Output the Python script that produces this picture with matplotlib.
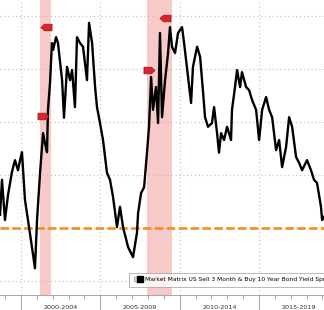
import matplotlib
matplotlib.use("Agg")
import matplotlib.pyplot as plt
from matplotlib.path import Path
from matplotlib.lines import Line2D
from matplotlib.legend_handler import HandlerTuple
import matplotlib.transforms as mtransforms

# spread (10y minus 3m, %), x in fractional years
years = [1998.68, 1998.80, 1998.99, 1999.18, 1999.43, 1999.62, 1999.81, 1999.94,
         2000.06, 2000.25, 2000.44, 2000.69, 2000.88, 2001.01, 2001.20, 2001.39,
         2001.51, 2001.64, 2001.70, 2001.83, 2001.95, 2002.02, 2002.21, 2002.33,
         2002.59, 2002.71, 2002.90, 2003.09, 2003.22, 2003.40, 2003.53, 2003.72,
         2003.91, 2004.16, 2004.29, 2004.48, 2004.67, 2004.79, 2004.98, 2005.17,
         2005.42, 2005.61, 2005.80, 2006.05, 2006.24, 2006.43, 2006.75, 2007.06,
         2007.31, 2007.38, 2007.57, 2007.76, 2007.94, 2008.07, 2008.20, 2008.32,
         2008.51, 2008.64, 2008.76, 2008.89, 2009.08, 2009.27, 2009.39, 2009.52,
         2009.71, 2009.90, 2010.15, 2010.28, 2010.53, 2010.72, 2010.84, 2011.10,
         2011.29, 2011.48, 2011.60, 2011.79, 2012.04, 2012.17, 2012.36, 2012.48,
         2012.61, 2012.80, 2012.99, 2013.24, 2013.30, 2013.49, 2013.62, 2013.81,
         2013.93, 2014.19, 2014.38, 2014.56, 2014.82, 2015.01, 2015.20, 2015.45,
         2015.64, 2015.83, 2016.08, 2016.27, 2016.46, 2016.71, 2016.90, 2017.09,
         2017.34, 2017.53, 2017.72, 2018.03, 2018.28, 2018.47, 2018.66, 2018.91,
         2018.98, 2019.10]
spread = [0.25, 0.91, 0.15, 0.62, 1.06, 1.28, 1.09, 1.28,
          1.43, 0.53, 0.15, -0.36, -0.76, 0.15, 1.04, 1.79,
          1.60, 1.43, 2.23, 2.74, 3.49, 3.36, 3.60, 3.49,
          2.79, 2.08, 3.04, 2.79, 2.98, 2.28, 3.60, 3.49,
          3.42, 2.79, 3.87, 3.49, 2.66, 2.28, 1.98, 1.66,
          1.04, 0.91, 0.59, 0.02, 0.40, 0.02, -0.36, -0.55,
          -0.09, 0.28, 0.66, 0.77, 1.42, 1.91, 2.85, 2.23,
          2.66, 1.98, 3.68, 2.09, 2.79, 3.30, 3.79, 3.42,
          3.30, 3.68, 3.79, 3.49, 2.85, 2.36, 3.04, 3.42,
          3.23, 2.55, 2.09, 1.91, 1.98, 2.28, 1.79, 1.42,
          1.79, 1.66, 1.91, 1.66, 2.23, 2.66, 2.98, 2.66,
          2.94, 2.66, 2.60, 2.42, 2.23, 1.66, 2.23, 2.47,
          2.23, 2.09, 1.47, 1.66, 1.15, 1.53, 2.09, 1.91,
          1.34, 1.23, 1.09, 1.28, 1.09, 0.91, 0.85, 0.40,
          0.15, 0.21]

recessions = [(2001.17, 2001.88), (2007.92, 2009.50)]

flag_x = [2001.55, 2001.39, 2008.07, 2009.08]
flag_y = [3.79, 2.11, 2.98, 3.96]
flag_dir = ["left", "right", "right", "left"]

period_labels = ["2000-2004", "2005-2009", "2010-2014", "2015-2019"]
period_starts = [2000, 2005, 2010, 2015]
legend_text = "Market Matrix US Sell 3 Month & Buy 10 Year Bond Yield Spread"

fig = plt.figure(figsize=(3.24, 3.10), dpi=100)
ax = fig.add_axes([0, 15 / 310, 1, 295 / 310])

for a, b in recessions:
    ax.axvspan(a, b, color="#f8c4c4", alpha=0.9, lw=0, zorder=0)

ax.axhline(0, color="#f0901e", lw=1.9, dashes=(3.2, 1.3), zorder=2)
ax.plot(years, spread, color="black", lw=1.7, zorder=3)

# flag markers (pentagon arrows)
right_flag = Path([(-1, -0.6), (0.35, -0.6), (1, 0), (0.35, 0.6), (-1, 0.6), (-1, -0.6)],
                  [Path.MOVETO, Path.LINETO, Path.LINETO, Path.LINETO, Path.LINETO, Path.CLOSEPOLY])
left_flag = Path([(1, -0.6), (-0.35, -0.6), (-1, 0), (-0.35, 0.6), (1, 0.6), (1, -0.6)],
                 [Path.MOVETO, Path.LINETO, Path.LINETO, Path.LINETO, Path.LINETO, Path.CLOSEPOLY])
for fx, fy, d in zip(flag_x, flag_y, flag_dir):
    ax.plot(fx, fy, marker=right_flag if d == "right" else left_flag, ms=8,
            mfc="#d8262e", mec="#a01418", mew=0.5, ls="none", zorder=4)

ax.set_xlim(1998.676, 2019.10)
ax.set_ylim(-1.264, 4.302)

ax.set_yticks([-1, 0, 1, 2, 3, 4])
ax.set_xticks([2000, 2005, 2010, 2015])
ax.set_xticks(range(1999, 2020), minor=True)
ax.set_xticklabels([])
ax.set_yticklabels([])
ax.tick_params(axis="y", length=0)
ax.tick_params(axis="x", which="major", length=15, color="#999999", width=0.6)
ax.tick_params(axis="x", which="minor", length=3, color="#999999", width=0.6)
ax.grid(True, which="major", color="#c0c0c0", ls=(0, (1, 2.5)), lw=0.8)

for s in ["top", "left", "right"]:
    ax.spines[s].set_visible(False)
ax.spines["bottom"].set_color("#999999")
ax.spines["bottom"].set_linewidth(0.6)

trans = mtransforms.blended_transform_factory(ax.transData, ax.transAxes)
for lab, st in zip(period_labels, period_starts):
    ax.text(st + 2.5, -0.042, lab, transform=trans, ha="center", va="center",
            fontsize=4.6, color="#333333", clip_on=False)

h1 = Line2D([], [], marker="s", ms=3, mfc="#dddddd", mec="#bbbbbb", ls="none")
h2 = Line2D([], [], marker="s", ms=4.5, color="black", ls="none")
leg = ax.legend([(h1, h2)], [legend_text], handler_map={tuple: HandlerTuple(ndivide=None, pad=0.1)},
                loc="lower left", bbox_to_anchor=(129 / 324, 8 / 295), fontsize=4.35,
                frameon=True, fancybox=False, handlelength=1.5, handletextpad=0.4,
                borderpad=0.75, borderaxespad=0)
leg.get_frame().set_edgecolor("#999999")
leg.get_frame().set_linewidth(0.6)

fig.savefig("out.png", dpi=100)
